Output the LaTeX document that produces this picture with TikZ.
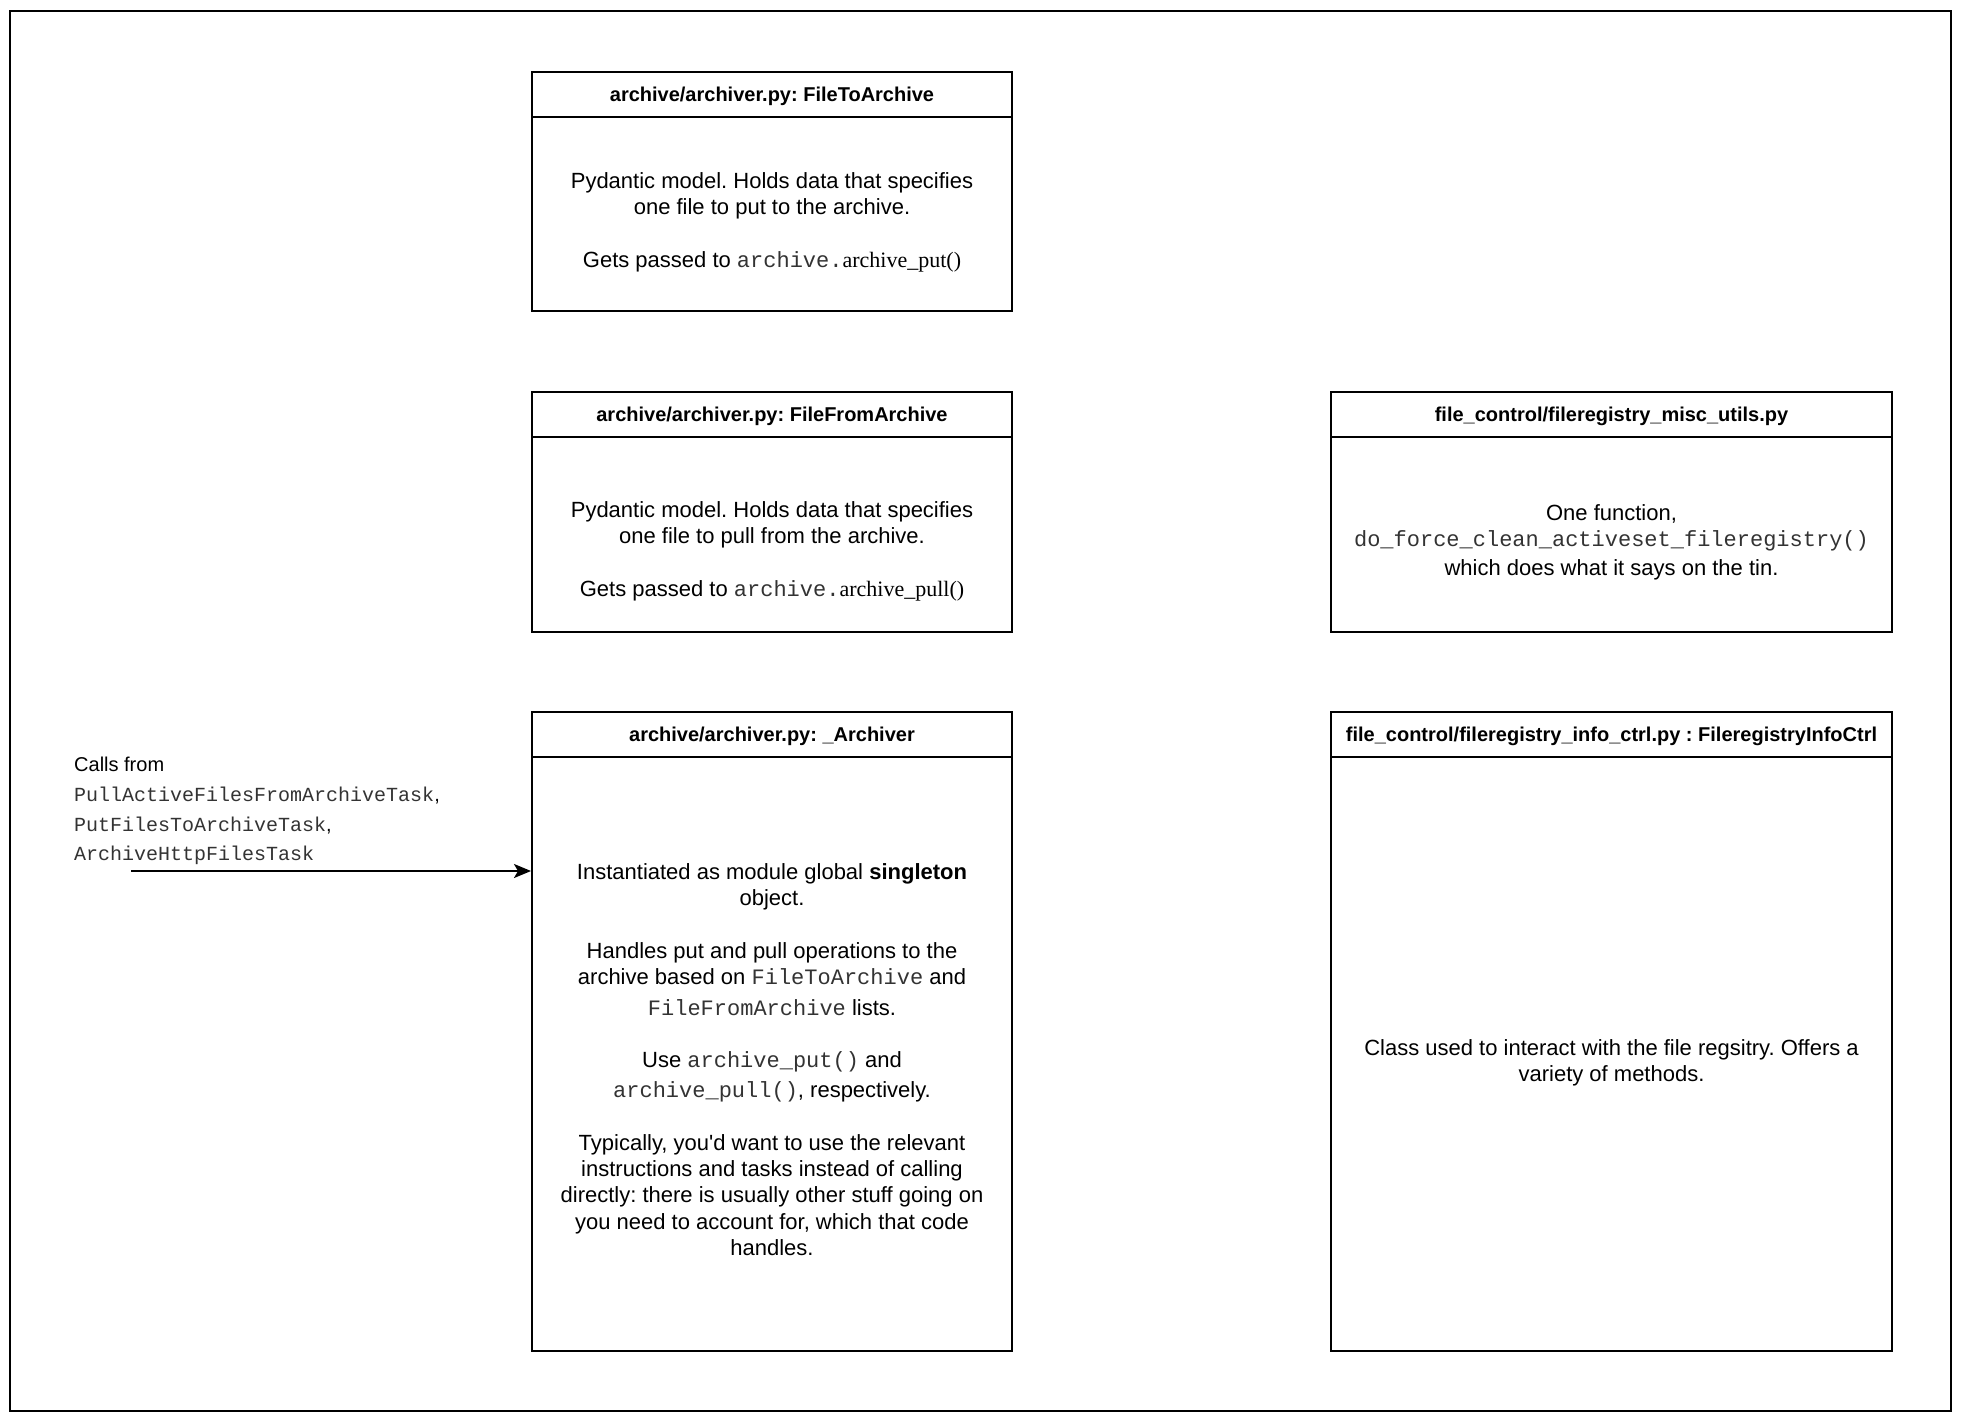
\documentclass[tikz,border=0pt]{standalone}
\usepackage{fontspec}
\setmainfont{Liberation Sans}
\newfontfamily\monof{Liberation Mono}
\newfontfamily\timesf{Liberation Serif}
\usetikzlibrary{arrows.meta}
\frenchspacing
\newcommand{\mt}[1]{{\monof\color{black!80}#1}}
\tikzset{
  umlbox/.style={draw, line width=2pt, rectangle, inner sep=0pt, anchor=north west},
  hdr/.style={font=\fontsize{20}{24}\selectfont\bfseries, inner sep=0pt},
  bodytext/.style={font=\fontsize{22}{26.4}\selectfont\frenchspacing, align=center, inner sep=0pt},
  hline/.style={line width=2pt},
  callarrow/.style={line width=2pt, -{Stealth[length=17pt,width=14pt,inset=4pt]}},
}
\begin{document}
\begin{tikzpicture}[x=1pt,y=-1pt]
\useasboundingbox (0,0) rectangle (1962,1424);
\draw[line width=2pt] (10,11) rectangle (1951,1411);

\node[umlbox, minimum width=480pt, minimum height=239pt] (b1) at (531,71) {};
\node[umlbox, minimum width=480pt, minimum height=240pt] (b2) at (531,391) {};
\node[umlbox, minimum width=480pt, minimum height=639pt] (b3) at (531,711) {};
\node[umlbox, minimum width=561pt, minimum height=240pt] (b4) at (1330,391) {};
\node[umlbox, minimum width=561pt, minimum height=639pt] (b5) at (1330,711) {};

\foreach \b in {b1,b2,b3,b4,b5}
  \draw[hline] ([yshift=-46pt]\b.north west) -- ([yshift=-46pt]\b.north east);

\node[hdr] (b1h) at ([yshift=-25pt]b1.north) {archive/archiver.py: FileToArchive};
\node[hdr] (b2h) at ([yshift=-25pt]b2.north) {archive/archiver.py: FileFromArchive};
\node[hdr] (b3h) at ([yshift=-25pt]b3.north) {archive/archiver.py: \_Archiver};
\node[hdr] (b4h) at ([yshift=-25pt]b4.north) {file\_control/fileregistry\_misc\_utils.py};
\node[hdr] (b5h) at ([yshift=-25pt]b5.north) {file\_control/fileregistry\_info\_ctrl.py : FileregistryInfoCtrl};

\node[bodytext] (b1t) at ([yshift=-31pt]b1.center) {Pydantic model. Holds data that specifies\\ one file to put to the archive.\\[26.4pt] Gets passed to \mt{archive.}{\timesf archive\_put()}};
\node[bodytext] (b2t) at ([yshift=-39pt]b2.center) {Pydantic model. Holds data that specifies\\ one file to pull from the archive.\\[26.4pt] Gets passed to \mt{archive.}{\timesf archive\_pull()}};
\node[bodytext] (b3t) at ([yshift=-28pt]b3.center) {Instantiated as module global \textbf{singleton}\\ object.\\[26.4pt]
Handles put and pull operations to the\\ archive based on \mt{FileToArchive} and\\[4pt] \mt{FileFromArchive} lists.\\[26.4pt]
Use \mt{archive\_put()} and\\[3pt] \mt{archive\_pull()}, respectively.\\[26.4pt]
Typically, you\textquotesingle d want to use the relevant\\ instructions and tasks instead of calling\\ directly: there is usually other stuff going on\\ you need to account for, which that code\\ handles.};
\node[bodytext] (b4t) at ([yshift=-30pt]b4.center) {One function,\\ \mt{do\_force\_clean\_activeset\_fileregistry()}\\[2pt] which does what it says on the tin.};
\node[bodytext] (b5t) at ([yshift=-31pt]b5.center) {Class used to interact with the file regsitry. Offers a\\ variety of methods.};

\node[anchor=north west, inner sep=0pt, align=left, font=\fontsize{20}{29.7}\selectfont] (calls) at (74,757) {Calls from\\ \mt{PullActiveFilesFromArchiveTask},\\ \mt{PutFilesToArchiveTask},\\ \mt{ArchiveHttpFilesTask}};

\coordinate (src) at (131,871);
\draw[callarrow] (src) -- (src -| b3.west);
\end{tikzpicture}
\end{document}
